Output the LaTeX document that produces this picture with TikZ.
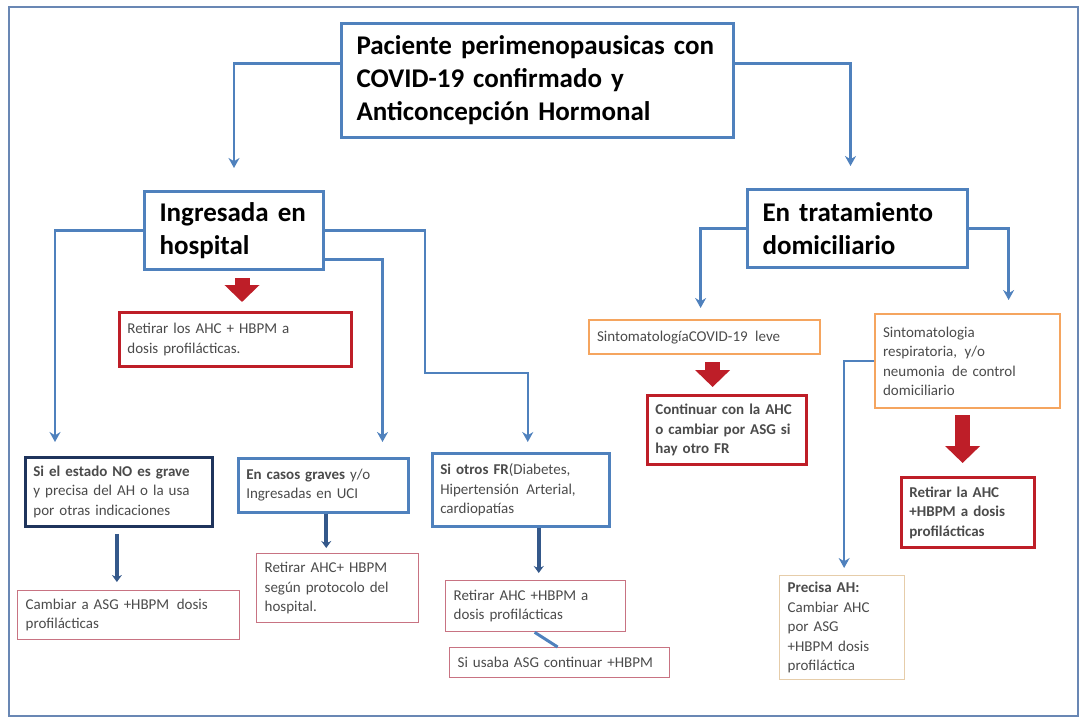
\documentclass[tikz,border=0pt]{standalone}
\usepackage{fontspec}
\setmainfont{Carlito}
\usetikzlibrary{arrows.meta,positioning}
\definecolor{azul}{RGB}{79,129,189}
\definecolor{azulosc}{RGB}{52,88,138}
\definecolor{marino}{RGB}{31,52,92}
\definecolor{rojo}{RGB}{190,30,40}
\definecolor{rosa}{RGB}{200,115,130}
\definecolor{naranja}{RGB}{245,165,95}
\definecolor{crema}{RGB}{230,205,170}
\definecolor{gristxt}{RGB}{75,75,75}
\definecolor{marco}{RGB}{105,135,180}
\tikzset{
  caja/.style = {anchor=north west, align=left, fill=white, inner ysep=2pt},
  caja_g/.style = {caja, draw=azul, line width=3pt, inner xsep=15pt,
    font=\fontsize{27}{33}\selectfont\bfseries},% caja grande, azul
  caja_p/.style = {caja, inner xsep=8pt, text=gristxt,
    font=\fontsize{15}{19.5}\selectfont},% caja pequena
  caja_az/.style = {caja_p, draw=azul, line width=2.5pt},% borde azul
  caja_m/.style = {caja_p, draw=marino, line width=2.8pt},% borde marino
  caja_r/.style = {caja_p, draw=rojo, line width=2.8pt},% borde rojo
  caja_rs/.style = {caja_p, draw=rosa, line width=1.3pt},% borde rosa fino
  caja_n/.style = {caja_p, draw=naranja, line width=2.2pt},% borde naranja
  caja_c/.style = {caja_p, draw=crema, line width=1.3pt},% borde crema
  flecha/.style = {draw=azul, line width=2.5pt,
    -{Stealth[length=10pt,width=11pt]}},% conector azul
  flecha_o/.style = {draw=azulosc, line width=4pt,
    -{Stealth[length=7pt,width=10pt]}},% flecha azul oscura
  flecha_r/.style = {draw=rojo, line width=15pt,
    -{Triangle[length=17pt,width=34pt]}}% flecha roja gruesa
}
\begin{document}
\begin{tikzpicture}[x=1pt,y=-1pt]
\useasboundingbox (0,0) rectangle (1083,718);
\draw[marco, line width=2.5pt] (9,7) rectangle (1078,716);

\node[caja_g, text width=362pt, minimum height=114pt] (paciente) at (340,22)
  {Paciente perimenopausicas con\\ COVID-19 confirmado y\\ Anticoncepción Hormonal};
\node[caja_g, text width=149pt, minimum height=78pt] (ingresada) at (143,190)
  {Ingresada en\\ hospital};
\node[caja_g, text width=190pt, minimum height=78pt] (domicilio) at (746,188)
  {En tratamiento\\ domiciliario};

\node[caja_r, text width=216pt, minimum height=54pt] (retirarhosp) at (118,311)
  {Retirar los AHC + HBPM a\\ dosis profilácticas.};
\node[caja_m, text width=171pt, minimum height=69pt] (nograve) at (24,456)
  {\textbf{Si el estado NO es grave}\\ y precisa del AH o la usa\\ por otras indicaciones};
\node[caja_az, text width=154pt, minimum height=54pt] (grave) at (237,457)
  {\textbf{En casos graves} y/o\\ Ingresadas en UCI};
\node[caja_az, text width=161pt, minimum height=73pt] (otrosfr) at (431,452)
  {\textbf{Si otros FR}(Diabetes,\\ Hipertensión\ \,Arterial,\\ cardiopatías};
\node[caja_rs, text width=206pt, minimum height=49pt] (cambiarasg) at (17,590)
  {Cambiar a ASG +HBPM\ \,dosis\\ profilácticas};
\node[caja_rs, text width=146pt, minimum height=69pt] (retirarprot) at (256,553)
  {Retirar AHC+ HBPM\\ según protocolo del\\ hospital.};
\node[caja_rs, text width=164pt, minimum height=51pt] (retirarfr) at (445,580)
  {Retirar AHC +HBPM a\\ dosis profilácticas};
\node[caja_rs, text width=204pt, minimum height=30pt] (usabaasg) at (449,647)
  {Si usaba ASG continuar +HBPM};

\node[caja_n, text width=215pt, minimum height=34pt] (leve) at (588,319)
  {SintomatologíaCOVID-19\ \,leve};
\node[caja_r, text width=143pt, minimum height=69pt] (continuar) at (646,394)
  {\textbf{Continuar con la AHC}\\ \textbf{o cambiar por ASG si}\\ \textbf{hay otro FR}};
\node[caja_n, text width=169pt, minimum height=94pt] (respir) at (874,313)
  {Sintomatologia\\ respiratoria,\ \,y/o\\ neumonia\ \,de control\\ domiciliario};
\node[caja_r, text width=117pt, minimum height=70pt] (retirarla) at (900,476)
  {\textbf{Retirar la AHC}\\ \textbf{+HBPM a dosis}\\ \textbf{profilácticas}};
\node[caja_c, text width=109pt, minimum height=104pt] (precisa) at (779,575)
  {\textbf{Precisa AH:}\\ Cambiar AHC\\ por ASG\\ +HBPM dosis\\ profiláctica};

% conectores azules
\draw[flecha, shorten >=22pt] ([yshift=17pt]paciente.west) -| (ingresada.north);
\draw[flecha, shorten >=22pt] ([yshift=17pt]paciente.east) -| ([xshift=-7pt]domicilio.north);
\draw[flecha, shorten >=14pt] (ingresada.west) -| ([xshift=31pt]nograve.north west);
\draw[flecha, shorten >=15pt] ([yshift=-29pt]ingresada.east) -| ([xshift=-27pt]grave.north east);
\coordinate (codo) at (425,373);
\draw[flecha, shorten >=10pt] (ingresada.east) -| (codo) -| ([xshift=7pt]otrosfr.north);
\draw[flecha, shorten >=11pt] (domicilio.west) -| ([xshift=-4pt]leve.north);
\draw[flecha, shorten >=13pt] (domicilio.east) -| ([xshift=41pt]respir.north);
\draw[flecha, shorten >=7pt] (respir.west) -| ([xshift=2pt]precisa.north);

% flechas rojas
\draw[flecha_r, shorten <=7pt, shorten >=9pt] ([xshift=8pt]ingresada.south)
  -- ([xshift=8pt]ingresada.south |- retirarhosp.north);
\draw[flecha_r, shorten <=7pt, shorten >=7pt] ([xshift=8pt]leve.south)
  -- ([xshift=8pt]leve.south |- continuar.north);
\draw[flecha_r, shorten <=6pt, shorten >=13pt] ([xshift=-5pt]respir.south)
  -- ([xshift=-5pt]respir.south |- retirarla.north);

% flechas azul oscuro
\draw[flecha_o, shorten <=6pt, shorten >=8pt] ([xshift=-2pt]nograve.south)
  -- ([xshift=-2pt]nograve.south |- cambiarasg.north);
\draw[flecha_o, shorten >=5pt] ([xshift=3pt]grave.south)
  -- ([xshift=3pt]grave.south |- retirarprot.north);
\draw[flecha_o, shorten >=7pt] ([xshift=18pt]otrosfr.south)
  -- ([xshift=18pt]otrosfr.south |- retirarfr.north);
\draw[azul, line width=3pt] ([xshift=-1pt]retirarfr.south) -- ([xshift=-2pt]usabaasg.north);
\end{tikzpicture}
\end{document}
